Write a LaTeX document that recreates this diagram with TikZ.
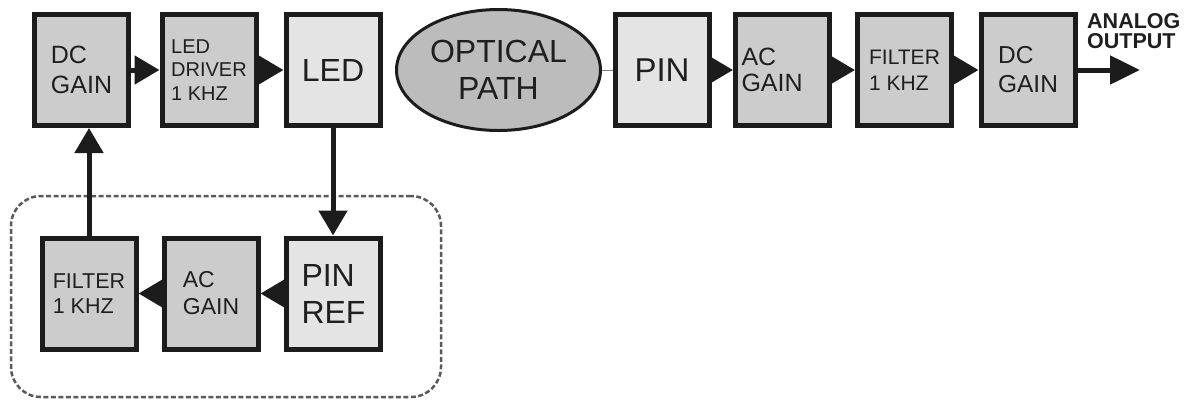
\documentclass[tikz,border=0pt]{standalone}
\usepackage{fontspec}
\setmainfont{Liberation Sans}
\usetikzlibrary{arrows.meta,shapes.geometric}
\definecolor{darkfill}{HTML}{CCCCCC}
\definecolor{lightfill}{HTML}{E4E4E4}
\definecolor{ellfill}{HTML}{BCBCBC}
\definecolor{edge}{HTML}{1C1C1C}
\definecolor{dashgray}{HTML}{5A5A5A}
\tikzset{
  blk/.style={draw=edge, line width=5pt, rectangle, minimum width=94pt, minimum height=111pt, inner sep=0pt, align=left, text=black!88},
  dk/.style={blk, fill=darkfill},
  lt/.style={blk, fill=lightfill},
  conn/.style={draw=edge, line width=5pt, -{Triangle[length=25pt,width=28pt]}},
  grp/.style={draw=dashgray, line width=2.5pt, dash pattern=on 5pt off 2.5pt, rounded corners=30pt, minimum width=430pt, minimum height=201pt, inner sep=0pt}
}
\begin{document}
\begin{tikzpicture}[x=1pt,y=-1pt]
\useasboundingbox (0,0) rectangle (1190,400);
% group
\node[grp] (grp) at (226,296.5) {};
% top row
\node[dk, font=\fontsize{25}{30}\selectfont] (dc1) at (81.5,70) {DC\\GAIN};
\node[dk, font=\fontsize{20}{23.5}\selectfont] (drv) at (209,70) {LED\\DRIVER\\1 KHZ};
\node[lt, font=\fontsize{32}{37}\selectfont] (led) at (333,70) {LED};
\node[ellipse, draw=edge, line width=3pt, fill=ellfill, minimum width=204pt, minimum height=121pt, inner sep=0pt, align=center, font=\fontsize{32}{37}\selectfont, text=black!88] (opt) at (498.5,70) {OPTICAL\\PATH};
\node[lt, font=\fontsize{33}{37}\selectfont] (pin) at (662,70) {PIN};
\node[dk, font=\fontsize{25}{26}\selectfont, text width=82pt] (ac1) at (782.5,70) {AC\\GAIN};
\node[dk, font=\fontsize{21}{26}\selectfont] (fl1) at (904.5,70) {FILTER\\1 KHZ};
\node[dk, font=\fontsize{24.5}{29}\selectfont] (dc2) at (1028,70) {DC\\GAIN};
\coordinate (out) at (1140,70);
\node[anchor=west, align=left, inner sep=0pt, font=\bfseries\fontsize{21.5}{20}\selectfont, text=black!88] (lbl) at (1087,31) {ANALOG\\OUTPUT};
% bottom row
\node[dk, font=\fontsize{21.5}{25}\selectfont] (fl2) at (89,293.5) {FILTER\\1 KHZ};
\node[dk, font=\fontsize{23}{27}\selectfont] (ac2) at (211,293.5) {AC\\GAIN};
\node[lt, font=\fontsize{32}{37}\selectfont] (pref) at (333.5,293.5) {PIN\\REF};
% connectors
\draw[conn] (dc1.east) -- (drv.west);
\draw[conn] (drv.east) -- (led.west);
\draw[draw=gray, line width=0.8pt] (opt.east) -- (pin.west);
\draw[conn] (pin.east) -- (ac1.west);
\draw[conn] (ac1.east) -- (fl1.west);
\draw[conn] (fl1.east) -- (dc2.west);
\draw[draw=edge, line width=5pt, -{Triangle[length=30pt,width=28pt]}] (dc2.east) -- (out);
\draw[conn] (led.south) -- (led.south |- pref.north);
\draw[conn] (pref.west) -- (ac2.east);
\draw[conn] (ac2.west) -- (fl2.east);
\draw[conn] (fl2.north) -- (fl2.north |- dc1.south);
\end{tikzpicture}
\end{document}
